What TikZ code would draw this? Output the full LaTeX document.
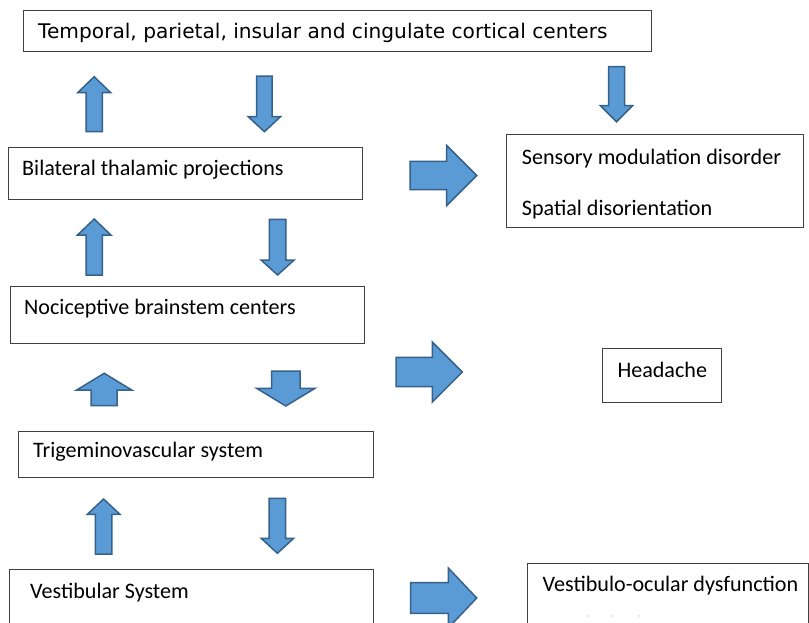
\documentclass[tikz,border=0pt]{standalone}
\usepackage{fontspec}
\setmainfont{Carlito}
\newfontfamily\topfont{DejaVu Sans}
\definecolor{boxline}{HTML}{404040}
\definecolor{arrfill}{HTML}{5B9BD5}
\definecolor{arrline}{HTML}{35618A}
\tikzset{
  box/.style={draw=boxline, line width=1.2pt, inner sep=0pt, anchor=north west},
  lbl/.style={inner sep=0pt, anchor=base west, font=\fontsize{22.1}{26}\selectfont},
  toplbl/.style={inner sep=0pt, anchor=base west, font=\topfont\fontsize{20.15}{24}\selectfont},
  blockarr/.style={fill=arrfill, draw=arrline, line width=1.5pt, line join=miter},
}
\newcommand{\uparrowshape}[6]{% cx, tipy, basey, headhalf, shafthalf, bottomy
  \draw[blockarr] (#1,#2) -- (#1+#4,#3) -- (#1+#5,#3) -- (#1+#5,#6) -- (#1-#5,#6) -- (#1-#5,#3) -- (#1-#4,#3) -- cycle;}
\newcommand{\downarrowshape}[6]{% cx, tipy, basey, headhalf, shafthalf, topy
  \draw[blockarr] (#1,#2) -- (#1+#4,#3) -- (#1+#5,#3) -- (#1+#5,#6) -- (#1-#5,#6) -- (#1-#5,#3) -- (#1-#4,#3) -- cycle;}
\newcommand{\rightarrowshape}[6]{% cy, tipx, basex, headhalf, shafthalf, leftx
  \draw[blockarr] (#2,#1) -- (#3,#1-#4) -- (#3,#1-#5) -- (#6,#1-#5) -- (#6,#1+#5) -- (#3,#1+#5) -- (#3,#1+#4) -- cycle;}
\begin{document}
\begin{tikzpicture}[x=1pt, y=-1pt]
\useasboundingbox (0,0) rectangle (809,622);
\clip (0,0) rectangle (809,622);
% boxes
\node[box, minimum width=628pt, minimum height=41pt] (b1) at (23,10) {};
\node[box, minimum width=354pt, minimum height=52pt] (b2) at (8,147) {};
\node[box, minimum width=297pt, minimum height=92.7pt] (b3) at (506,134) {};
\node[box, minimum width=354pt, minimum height=57pt] (b4) at (10,286) {};
\node[box, minimum width=118.5pt, minimum height=54pt] (b5) at (602,348) {};
\node[box, minimum width=355pt, minimum height=46pt] (b6) at (18,430.5) {};
\node[box, minimum width=364pt, minimum height=70pt] (b7) at (9,569) {};
\node[box, minimum width=281pt, minimum height=70pt] (b8) at (527,563) {};
% texts
\node[toplbl] (t1) at (38,38) {Temporal, parietal, insular and cingulate cortical centers};
\node[lbl] (t2) at (22,175) {Bilateral thalamic projections};
\node[lbl] (t3a) at (521.7,164) {Sensory modulation disorder};
\node[lbl] (t3b) at (521.7,215) {Spatial disorientation};
\node[lbl] (t4) at (24,314) {Nociceptive brainstem centers};
\node[lbl] (t5) at (617.3,377.3) {Headache};
\node[lbl] (t6) at (33,457) {Trigeminovascular system};
\node[lbl] (t7) at (30,598.5) {Vestibular System};
\node[lbl] (t8) at (542.5,591) {Vestibulo-ocular dysfunction};
% faint specks
\fill[gray!35] (588,616) circle (0.9pt) (612,616) circle (0.9pt) (639,616) circle (0.9pt);
% block arrows
\uparrowshape{94.2}{76.7}{92.7}{16.5}{8.2}{131.7}
\downarrowshape{264.4}{131.7}{116.7}{16.1}{7.8}{76}
\downarrowshape{616.5}{121.7}{105.7}{16}{8}{66.7}
\rightarrowshape{175.5}{476.7}{446.7}{30}{14.2}{410}
\uparrowshape{94.2}{219}{235}{16.7}{8.2}{275}
\downarrowshape{277.6}{275}{260}{16.6}{8.3}{219.3}
\rightarrowshape{372}{462.3}{432.3}{30}{14.7}{396}
\uparrowshape{104.2}{373.3}{390}{27.5}{13}{405.7}
\downarrowshape{285.8}{406}{388.3}{29.2}{14.2}{371}
\uparrowshape{103.6}{499}{514.3}{16.3}{8.3}{554}
\downarrowshape{277.4}{553.3}{538.3}{16.2}{8.2}{498.3}
\rightarrowshape{598}{476.7}{448.3}{30}{15.3}{410.7}
\end{tikzpicture}
\end{document}
